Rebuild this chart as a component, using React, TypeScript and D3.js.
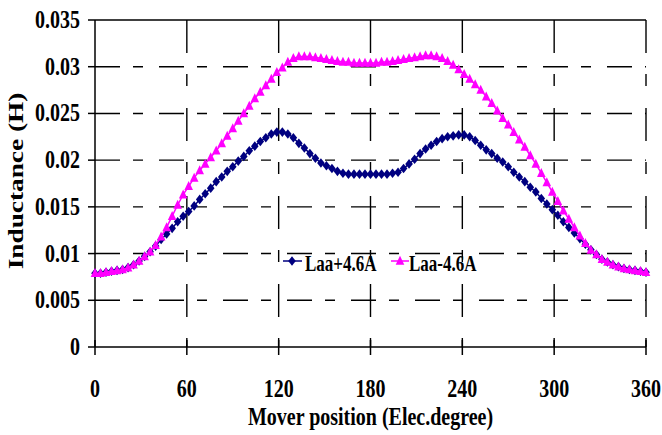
import React from 'react';
import * as d3 from 'd3';

// sampling grid of the mover position (electrical degrees), 100 steps over 360°
const positions: number[] = d3.range(101).map((i) => i * 3.6);

// Laa at +4.6 A (navy diamonds)
const laaPlus: number[] = [
  0.0079, 0.0079, 0.0080, 0.0081, 0.0082, 0.0083, 0.0085, 0.0088, 0.0092, 0.0097,
  0.0102, 0.0108, 0.0115, 0.0121, 0.0127, 0.0134, 0.0140, 0.0145, 0.0151, 0.0158,
  0.0164, 0.0170, 0.0177, 0.0182, 0.0188, 0.0193, 0.0199, 0.0204, 0.0210, 0.0215,
  0.0220, 0.0224, 0.0228, 0.0230, 0.0230, 0.0228, 0.0224, 0.0218, 0.0213, 0.0207,
  0.0202, 0.0197, 0.0194, 0.0191, 0.0188, 0.0186, 0.0185, 0.0185, 0.0185, 0.0185,
  0.0185, 0.0185, 0.0185, 0.0185, 0.0186, 0.0187, 0.0191, 0.0196, 0.0201, 0.0207,
  0.0212, 0.0216, 0.0220, 0.0223, 0.0225, 0.0226, 0.0227, 0.0227, 0.0225, 0.0221,
  0.0216, 0.0211, 0.0207, 0.0202, 0.0198, 0.0193, 0.0187, 0.0182, 0.0177, 0.0171,
  0.0166, 0.0159, 0.0153, 0.0147, 0.0141, 0.0134, 0.0128, 0.0122, 0.0116, 0.0110,
  0.0104, 0.0099, 0.0094, 0.0091, 0.0088, 0.0086, 0.0084, 0.0083, 0.0082, 0.0081,
  0.0080,
];

// Laa at -4.6 A (magenta triangles)
const laaMinus: number[] = [
  0.0079, 0.0079, 0.0080, 0.0081, 0.0082, 0.0083, 0.0085, 0.0088, 0.0092, 0.0097,
  0.0102, 0.0109, 0.0118, 0.0128, 0.0140, 0.0152, 0.0163, 0.0172, 0.0181, 0.0189,
  0.0196, 0.0203, 0.0210, 0.0218, 0.0226, 0.0234, 0.0242, 0.0250, 0.0258, 0.0266,
  0.0273, 0.0280, 0.0287, 0.0294, 0.0299, 0.0305, 0.0309, 0.0311, 0.0311, 0.0311,
  0.0310, 0.0309, 0.0308, 0.0307, 0.0306, 0.0305, 0.0305, 0.0304, 0.0304, 0.0304,
  0.0304, 0.0304, 0.0305, 0.0305, 0.0306, 0.0307, 0.0308, 0.0309, 0.0310, 0.0311,
  0.0312, 0.0312, 0.0311, 0.0309, 0.0306, 0.0302, 0.0297, 0.0292, 0.0287, 0.0281,
  0.0275, 0.0268, 0.0261, 0.0253, 0.0245, 0.0238, 0.0230, 0.0222, 0.0214, 0.0205,
  0.0196, 0.0186, 0.0176, 0.0166, 0.0156, 0.0146, 0.0137, 0.0128, 0.0119, 0.0111,
  0.0104, 0.0099, 0.0094, 0.0091, 0.0088, 0.0086, 0.0084, 0.0083, 0.0082, 0.0081,
  0.0080,
];

const xTicks: number[] = [0, 60, 120, 180, 240, 300, 360];
const yTicks: number[] = [0, 0.005, 0.01, 0.015, 0.02, 0.025, 0.03, 0.035];
const yTickLabels: string[] = ['0', '0.005', '0.01', '0.015', '0.02', '0.025', '0.03', '0.035'];
const seriesNames: string[] = ['Laa+4.6A', 'Laa-4.6A'];
const xTitle = 'Mover position (Elec.degree)';
const yTitle = 'Inductance (H)';

const W = 662;
const H = 435;
const FONT = '"Liberation Serif", "Times New Roman", serif';
const SY = 1.22; // vertical stretch of the reference's lettering
const NAVY = '#000080';
const MAGENTA = '#ff00ff';

const x = d3.scaleLinear().domain([0, 360]).range([95, 646]);
const y = d3.scaleLinear().domain([0, 0.035]).range([347, 20]);

const diamond = (cx: number, cy: number) =>
  `M${cx},${cy - 4.8}L${cx + 3.8},${cy}L${cx},${cy + 4.8}L${cx - 3.8},${cy}Z`;
const triangle = (cx: number, cy: number) =>
  `M${cx},${cy - 5.2}L${cx + 4.3},${cy + 3.8}L${cx - 4.3},${cy + 3.8}Z`;

export default function App() {
  const line = d3
    .line<number>()
    .x((_, i) => x(positions[i]))
    .y((d) => y(d));

  const [x0, x1] = x.range();
  const yBottom = y(0);
  const yTop = y(0.035);

  return (
    <svg
      width={W}
      height={H}
      style={{ position: 'absolute', left: 0, top: 0, background: '#fff' }}
    >
      <rect x={0} y={0} width={W} height={H} fill="#fff" />

      {/* horizontal grid */}
      {yTicks
        .filter((v) => v > 0 && v < 0.035)
        .map((v) => (
          <line
            key={'hg' + v}
            x1={x0}
            x2={x1}
            y1={y(v)}
            y2={y(v)}
            stroke="#000"
            strokeWidth={1.4}
            strokeDasharray="25,13,10,16"
          />
        ))}
      {/* vertical grid */}
      {xTicks
        .filter((v) => v > 0)
        .map((v) => (
          <line
            key={'vg' + v}
            x1={x(v)}
            x2={x(v)}
            y1={yTop}
            y2={yBottom}
            stroke="#000"
            strokeWidth={1.4}
            strokeDasharray="33,21,12,22"
          />
        ))}

      {/* frame / axes */}
      <line x1={x0} x2={x1} y1={yTop} y2={yTop} stroke="#000" strokeWidth={1.5} />
      <line x1={x0} x2={x0} y1={yTop} y2={yBottom} stroke="#000" strokeWidth={1.5} />
      <line x1={x0} x2={x1} y1={yBottom} y2={yBottom} stroke="#000" strokeWidth={1.5} />

      {/* y ticks */}
      {yTicks.map((v, i) => (
        <g key={'yt' + v}>
          <line x1={x0 - 7} x2={x0} y1={y(v)} y2={y(v)} stroke="#000" strokeWidth={1.5} />
          <text
            transform={`translate(80,${y(v) + 8}) scale(1,${SY})`}
            textAnchor="end"
            fontFamily={FONT}
            fontWeight="bold"
            fontSize={20}
            fill="#000"
          >
            {yTickLabels[i]}
          </text>
        </g>
      ))}

      {/* x ticks */}
      {xTicks.map((v) => (
        <g key={'xt' + v}>
          <line x1={x(v)} x2={x(v)} y1={yBottom - 7} y2={yBottom + 8} stroke="#000" strokeWidth={1.5} />
          <text
            transform={`translate(${x(v)},397) scale(1,${SY})`}
            textAnchor="middle"
            fontFamily={FONT}
            fontWeight="bold"
            fontSize={20}
            fill="#000"
          >
            {v}
          </text>
        </g>
      ))}

      {/* axis titles */}
      <text
        transform={`translate(${(x0 + x1) / 2},425) scale(1,${SY})`}
        textAnchor="middle"
        fontFamily={FONT}
        fontWeight="bold"
        fontSize={20}
        fill="#000"
      >
        {xTitle}
      </text>
      <text
        transform={`translate(23,181) scale(1,1.3) rotate(-90)`}
        textAnchor="middle"
        fontFamily={FONT}
        fontWeight="bold"
        fontSize={21}
        fill="#000"
      >
        {yTitle}
      </text>

      {/* series: +4.6A */}
      <path d={line(laaPlus) || ''} fill="none" stroke={NAVY} strokeWidth={1.5} />
      {laaPlus.map((v, i) => (
        <path key={'p' + i} d={diamond(x(positions[i]), y(v))} fill={NAVY} />
      ))}

      {/* series: -4.6A */}
      <path d={line(laaMinus) || ''} fill="none" stroke={MAGENTA} strokeWidth={1.5} />
      {laaMinus.map((v, i) => (
        <path key={'m' + i} d={triangle(x(positions[i]), y(v))} fill={MAGENTA} />
      ))}

      {/* legend */}
      <g>
        <line x1={283} x2={302} y1={261} y2={261} stroke={NAVY} strokeWidth={1.5} />
        <path d={diamond(292, 261)} fill={NAVY} />
        <text
          transform={`translate(305,271) scale(1,${SY + 0.1})`}
          fontFamily={FONT}
          fontWeight="bold"
          fontSize={17}
          fill="#000"
        >
          {seriesNames[0]}
        </text>
        <line x1={391} x2={409} y1={261} y2={261} stroke={MAGENTA} strokeWidth={1.5} />
        <path d={triangle(400, 261)} fill={MAGENTA} />
        <text
          transform={`translate(409,271) scale(1,${SY + 0.1})`}
          fontFamily={FONT}
          fontWeight="bold"
          fontSize={17}
          fill="#000"
        >
          {seriesNames[1]}
        </text>
      </g>
    </svg>
  );
}
